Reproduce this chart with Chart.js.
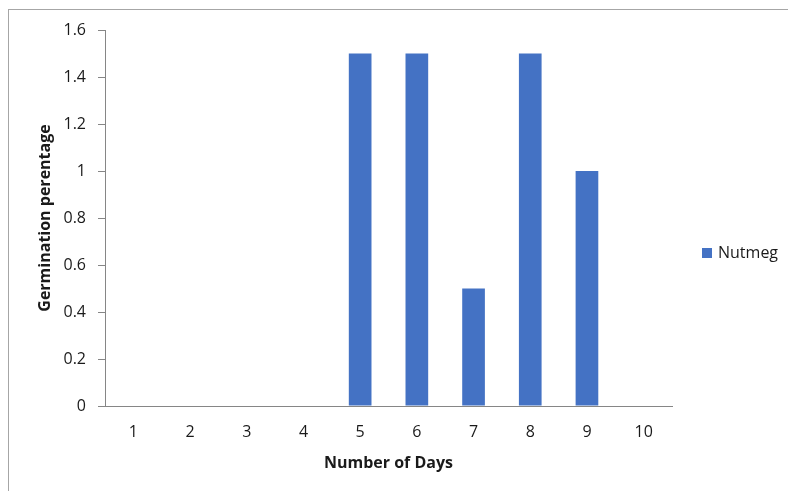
<!DOCTYPE html>
<html>
<head>
<meta charset="utf-8">
<script src="https://cdn.jsdelivr.net/npm/chart.js@4/dist/chart.umd.min.js"></script>
<style>
  html, body { margin: 0; padding: 0; background: #fff; overflow: hidden; }
  #wrap { position: relative; width: 788px; height: 491px; }
  #frame { position: absolute; left: 8px; top: 9px; width: 800px; height: 500px;
           border: 1px solid #a6a6a6; box-sizing: border-box; pointer-events: none; }
  canvas { position: absolute; left: 0; top: 0; }
</style>
</head>
<body>
<div id="wrap">
  <canvas id="chart" width="788" height="491"></canvas>
  <div id="frame"></div>
</div>
<script>
const days = ['1', '2', '3', '4', '5', '6', '7', '8', '9', '10'];
const nutmeg = [0, 0, 0, 0, 1.5, 1.5, 0.5, 1.5, 1, 0];
const yTickLabels = ['0', '0.2', '0.4', '0.6', '0.8', '1', '1.2', '1.4', '1.6'];

const FONT = 'Open Sans';
const TEXT = '#1a1a1a';
const AXIS = '#868686';
const BAR = '#4472C4';

// Single-entry legend at the right of the plot
const sideLegend = {
  id: 'sideLegend',
  afterDraw(chart) {
    const ctx = chart.ctx;
    const ds = chart.data.datasets[0];
    ctx.save();
    ctx.fillStyle = ds.backgroundColor;
    ctx.fillRect(702, 248, 10, 10);
    ctx.fillStyle = TEXT;
    ctx.font = `16px "${FONT}"`;
    ctx.textBaseline = 'middle';
    ctx.textAlign = 'left';
    ctx.fillText(ds.label, 718, 253);
    ctx.restore();
  }
};

new Chart(document.getElementById('chart'), {
  type: 'bar',
  data: {
    labels: days,
    datasets: [{
      label: 'Nutmeg',
      data: nutmeg,
      backgroundColor: BAR,
      borderWidth: 0,
      barPercentage: 0.4,
      categoryPercentage: 1
    }]
  },
  options: {
    responsive: false,
    animation: false,
    layout: { padding: { left: 32, right: 116, top: 30, bottom: 14 } },
    plugins: { legend: { display: false }, tooltip: { enabled: false } },
    scales: {
      x: {
        offset: true,
        grid: { display: true, drawOnChartArea: false, drawTicks: false },
        border: { display: true, color: AXIS, width: 1 },
        ticks: { color: TEXT, font: { family: FONT, size: 16 }, padding: 17, maxRotation: 0 },
        title: { display: true, text: 'Number of Days', color: TEXT,
                 font: { family: FONT, size: 16, weight: 'bold' } },
        afterFit(scale) { scale.height = 71; }
      },
      y: {
        min: 0, max: 1.6,
        ticks: { stepSize: 0.2, color: TEXT, font: { family: FONT, size: 16 }, padding: 12,
                 callback: (v, i) => yTickLabels[i] },
        grid: { drawOnChartArea: false, drawTicks: true, tickLength: 7, color: AXIS },
        border: { display: true, color: AXIS, width: 1 },
        title: { display: true, text: 'Germination perentage', color: TEXT,
                 font: { family: FONT, size: 16, weight: 'bold' } },
        afterFit(scale) { scale.width = 73; }
      }
    }
  },
  plugins: [sideLegend]
});
</script>
</body>
</html>
